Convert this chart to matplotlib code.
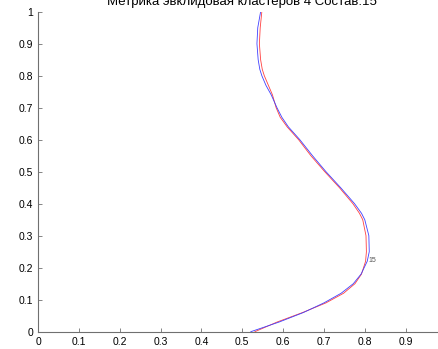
import matplotlib
matplotlib.use('Agg')
import matplotlib.pyplot as plt

# curve values (y, then x for each line)
y_vals = [1.0, 0.95, 0.9, 0.85, 0.82, 0.8, 0.77, 0.74, 0.7, 0.67, 0.64, 0.6, 0.55, 0.5,
          0.45, 0.4, 0.37, 0.35, 0.3, 0.25, 0.22, 0.18, 0.15, 0.12, 0.09, 0.06, 0.03, 0.0]
blue_x = [0.545, 0.538, 0.536, 0.539, 0.543, 0.548, 0.558, 0.571, 0.585, 0.597, 0.613, 0.641, 0.672, 0.705,
          0.741, 0.775, 0.792, 0.800, 0.810, 0.811, 0.806, 0.791, 0.772, 0.742, 0.700, 0.650, 0.590, 0.521]
red_x = [0.548, 0.544, 0.542, 0.545, 0.549, 0.554, 0.564, 0.574, 0.583, 0.593, 0.610, 0.638, 0.668, 0.702,
         0.738, 0.771, 0.787, 0.795, 0.803, 0.804, 0.802, 0.792, 0.776, 0.748, 0.705, 0.648, 0.585, 0.531]
label_pt = (0.81, 0.222)
xticks = [0, 0.1, 0.2, 0.3, 0.4, 0.5, 0.6, 0.7, 0.8, 0.9]
yticks = [0, 0.1, 0.2, 0.3, 0.4, 0.5, 0.6, 0.7, 0.8, 0.9, 1]
title = 'Метрика эвклидовая кластеров 4 Состав:15'

plt.rcParams['font.family'] = ['Liberation Sans', 'DejaVu Sans']

fig = plt.figure(figsize=(4.38, 3.49), dpi=100)
ax = fig.add_axes([0.0868, 0.0496, 0.9325, 0.9169])

ax.plot(red_x, y_vals, color='#ff4040', lw=0.6)
ax.plot(blue_x, y_vals, color='#4040ff', lw=0.6)
ax.text(label_pt[0], label_pt[1], '15', fontsize=5, color='#555555', va='center', ha='left')

ax.set_xlim(0, 1)
ax.set_ylim(0, 1)
ax.set_xticks(xticks)
ax.set_yticks(yticks)
ax.set_xticklabels([('%g' % t) for t in xticks])
ax.set_yticklabels([('%g' % t) for t in yticks])
ax.tick_params(direction='in', length=3, width=0.6, colors='#707070', labelsize=7.5,
               labelcolor='black')
ax.spines['top'].set_visible(False)
ax.spines['right'].set_visible(False)
for s in ['left', 'bottom']:
    ax.spines[s].set_color('#707070')
    ax.spines[s].set_linewidth(0.8)

ax.set_title(title, fontsize=9.5, pad=4.8)

fig.savefig('out.png', dpi=100)
